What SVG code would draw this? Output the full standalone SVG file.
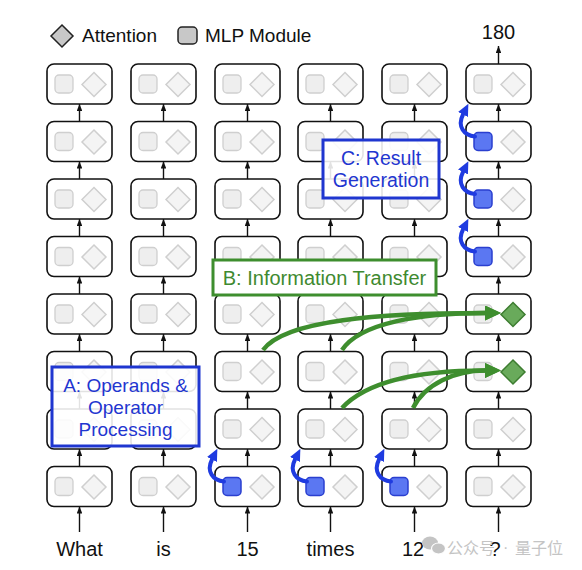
<svg xmlns="http://www.w3.org/2000/svg" xmlns:xlink="http://www.w3.org/1999/xlink" width="582" height="570" viewBox="0 0 582 570">
<style>
text{font-family:"Liberation Sans",Arial,Helvetica,sans-serif;}
.frame{fill:#fff;stroke:#111;stroke-width:1.6;}
.mlp{fill:#eeeeee;stroke:#cfcfcf;stroke-width:1.3;}
.attn{fill:#f4f4f4;stroke:#cfcfcf;stroke-width:1.5;}
.mlpB{fill:#5b77f2;stroke:#2a3fcf;stroke-width:1.5;}
.attnG{fill:#69aa5b;stroke:#3d7d30;stroke-width:1.5;}
.ar{stroke:#111;stroke-width:1.4;fill:none;marker-end:url(#ah);}
.ga{stroke:#3e8e2e;stroke-width:4.5;fill:none;marker-end:url(#gh);}
.ba{stroke:#1f3be0;stroke-width:4;fill:none;stroke-linecap:round;marker-end:url(#bh);}
.lblB{fill:#1f36d0;}
.lblG{fill:#3f8a30;}
.word{font-size:20px;fill:#111;text-anchor:middle;}
.wm{font-family:"Noto Sans CJK SC",sans-serif;font-size:16px;}
</style>
<defs>
<marker id="ah" viewBox="0 0 10 8" refX="10" refY="4" markerWidth="7" markerHeight="5.6" markerUnits="userSpaceOnUse" orient="auto"><path d="M0,0 L10,4 L0,8 z" fill="#111"/></marker>
<marker id="gh" viewBox="0 0 16 15" refX="0" refY="7.5" markerWidth="16" markerHeight="15" markerUnits="userSpaceOnUse" orient="auto"><path d="M0,0 L16,7.5 L0,15 z" fill="#3e8e2e"/></marker>
<marker id="bh" viewBox="0 0 12 11" refX="0" refY="5.5" markerWidth="12" markerHeight="11" markerUnits="userSpaceOnUse" orient="auto"><path d="M0,0 L12,5.5 L0,11 z" fill="#1f3be0"/></marker>
<g id="fr"><rect class="frame" x="0" y="0" width="65" height="40" rx="7"/></g>
<rect id="sq" class="mlp" x="8" y="11" width="18" height="18" rx="4"/>
<rect id="sqB" class="mlpB" x="8" y="11" width="18" height="18" rx="4"/>
<polygon id="dm" class="attn" points="47,8.5 59,20.5 47,32.5 35,20.5"/>
<polygon id="dmG" class="attnG" points="47,8.5 59,20.5 47,32.5 35,20.5"/>
<g id="cell"><use href="#fr"/><use href="#sq"/><use href="#dm"/></g>
<g id="cellB"><use href="#fr"/><use href="#sqB"/><use href="#dm"/></g>
<g id="cellG"><use href="#fr"/><use href="#sq"/><use href="#dmG"/></g>
</defs>
<rect width="582" height="570" fill="#fff"/>

<g id="legend">
<polygon points="62,25 73,36 62,47 51,36" fill="#c8c8c8" stroke="#222" stroke-width="1.5"/>
<text x="82" y="42" font-size="19" fill="#111">Attention</text>
<rect x="178" y="27" width="19" height="17" rx="4" fill="#c8c8c8" stroke="#222" stroke-width="1.5"/>
<text x="205" y="42" font-size="19" fill="#111">MLP Module</text>
</g>

<g id="nodes">
<g id="c1"><use href="#cell" x="47" y="64"/><use href="#cell" x="47" y="121.5"/><use href="#cell" x="47" y="179"/><use href="#cell" x="47" y="236.5"/><use href="#cell" x="47" y="294"/><use href="#cell" x="47" y="351.5"/><use href="#cell" x="47" y="409"/><use href="#cell" x="47" y="466.5"/></g>
<g id="c2"><use href="#cell" x="131" y="64"/><use href="#cell" x="131" y="121.5"/><use href="#cell" x="131" y="179"/><use href="#cell" x="131" y="236.5"/><use href="#cell" x="131" y="294"/><use href="#cell" x="131" y="351.5"/><use href="#cell" x="131" y="409"/><use href="#cell" x="131" y="466.5"/></g>
<g id="c3"><use href="#cell" x="215" y="64"/><use href="#cell" x="215" y="121.5"/><use href="#cell" x="215" y="179"/><use href="#cell" x="215" y="236.5"/><use href="#cell" x="215" y="294"/><use href="#cell" x="215" y="351.5"/><use href="#cell" x="215" y="409"/><use href="#cellB" x="215" y="466.5"/></g>
<g id="c4"><use href="#cell" x="298" y="64"/><use href="#cell" x="298" y="121.5"/><use href="#cell" x="298" y="179"/><use href="#cell" x="298" y="236.5"/><use href="#cell" x="298" y="294"/><use href="#cell" x="298" y="351.5"/><use href="#cell" x="298" y="409"/><use href="#cellB" x="298" y="466.5"/></g>
<g id="c5"><use href="#cell" x="382" y="64"/><use href="#cell" x="382" y="121.5"/><use href="#cell" x="382" y="179"/><use href="#cell" x="382" y="236.5"/><use href="#cell" x="382" y="294"/><use href="#cell" x="382" y="351.5"/><use href="#cell" x="382" y="409"/><use href="#cellB" x="382" y="466.5"/></g>
<g id="c6"><use href="#cell" x="466" y="64"/><use href="#cellB" x="466" y="121.5"/><use href="#cellB" x="466" y="179"/><use href="#cellB" x="466" y="236.5"/><use href="#cellG" x="466" y="294"/><use href="#cellG" x="466" y="351.5"/><use href="#cell" x="466" y="409"/><use href="#cell" x="466" y="466.5"/></g>
</g>

<g id="words">
<text class="word" x="79.5" y="556">What</text>
<text class="word" x="163.5" y="556">is</text>
<text class="word" x="247.5" y="556">15</text>
<text class="word" x="330.5" y="556">times</text>
<text class="word" x="413" y="556">12</text>
<text class="word" x="495" y="556">?</text>
<text class="word" x="498.5" y="39">180</text>
</g>

<g id="connectors">
<line class="ar" x1="79.5" y1="121.5" x2="79.5" y2="104"/><line class="ar" x1="79.5" y1="179" x2="79.5" y2="161.5"/><line class="ar" x1="79.5" y1="236.5" x2="79.5" y2="219"/><line class="ar" x1="79.5" y1="294" x2="79.5" y2="276.5"/><line class="ar" x1="79.5" y1="351.5" x2="79.5" y2="334"/><line class="ar" x1="79.5" y1="409" x2="79.5" y2="391.5"/><line class="ar" x1="79.5" y1="466.5" x2="79.5" y2="449"/><line class="ar" x1="79.5" y1="532" x2="79.5" y2="506.5"/>
<line class="ar" x1="163.5" y1="121.5" x2="163.5" y2="104"/><line class="ar" x1="163.5" y1="179" x2="163.5" y2="161.5"/><line class="ar" x1="163.5" y1="236.5" x2="163.5" y2="219"/><line class="ar" x1="163.5" y1="294" x2="163.5" y2="276.5"/><line class="ar" x1="163.5" y1="351.5" x2="163.5" y2="334"/><line class="ar" x1="163.5" y1="409" x2="163.5" y2="391.5"/><line class="ar" x1="163.5" y1="466.5" x2="163.5" y2="449"/><line class="ar" x1="163.5" y1="532" x2="163.5" y2="506.5"/>
<line class="ar" x1="247.5" y1="121.5" x2="247.5" y2="104"/><line class="ar" x1="247.5" y1="179" x2="247.5" y2="161.5"/><line class="ar" x1="247.5" y1="236.5" x2="247.5" y2="219"/><line class="ar" x1="247.5" y1="294" x2="247.5" y2="276.5"/><line class="ar" x1="247.5" y1="351.5" x2="247.5" y2="334"/><line class="ar" x1="247.5" y1="409" x2="247.5" y2="391.5"/><line class="ar" x1="247.5" y1="466.5" x2="247.5" y2="449"/><line class="ar" x1="247.5" y1="532" x2="247.5" y2="506.5"/>
<line class="ar" x1="330.5" y1="121.5" x2="330.5" y2="104"/><line class="ar" x1="330.5" y1="179" x2="330.5" y2="161.5"/><line class="ar" x1="330.5" y1="236.5" x2="330.5" y2="219"/><line class="ar" x1="330.5" y1="294" x2="330.5" y2="276.5"/><line class="ar" x1="330.5" y1="351.5" x2="330.5" y2="334"/><line class="ar" x1="330.5" y1="409" x2="330.5" y2="391.5"/><line class="ar" x1="330.5" y1="466.5" x2="330.5" y2="449"/><line class="ar" x1="330.5" y1="532" x2="330.5" y2="506.5"/>
<line class="ar" x1="414.5" y1="121.5" x2="414.5" y2="104"/><line class="ar" x1="414.5" y1="179" x2="414.5" y2="161.5"/><line class="ar" x1="414.5" y1="236.5" x2="414.5" y2="219"/><line class="ar" x1="414.5" y1="294" x2="414.5" y2="276.5"/><line class="ar" x1="414.5" y1="351.5" x2="414.5" y2="334"/><line class="ar" x1="414.5" y1="409" x2="414.5" y2="391.5"/><line class="ar" x1="414.5" y1="466.5" x2="414.5" y2="449"/><line class="ar" x1="414.5" y1="532" x2="414.5" y2="506.5"/>
<line class="ar" x1="498.5" y1="121.5" x2="498.5" y2="104"/><line class="ar" x1="498.5" y1="179" x2="498.5" y2="161.5"/><line class="ar" x1="498.5" y1="236.5" x2="498.5" y2="219"/><line class="ar" x1="498.5" y1="294" x2="498.5" y2="276.5"/><line class="ar" x1="498.5" y1="351.5" x2="498.5" y2="334"/><line class="ar" x1="498.5" y1="409" x2="498.5" y2="391.5"/><line class="ar" x1="498.5" y1="466.5" x2="498.5" y2="449"/><line class="ar" x1="498.5" y1="532" x2="498.5" y2="506.5"/>
<line class="ar" x1="498.5" y1="64" x2="498.5" y2="46"/>

<path class="ba" d="M224,481.5 C213,480.5 206,471.5 212,459.5"/>
<path class="ba" d="M307,481.5 C296,480.5 289,471.5 295,459.5"/>
<path class="ba" d="M391,481.5 C380,480.5 373,471.5 379,459.5"/>
<path class="ba" d="M475,136.5 C464,135.5 457,126.5 463,114.5"/>
<path class="ba" d="M475,194 C464,193 457,184 463,172"/>
<path class="ba" d="M475,251.5 C464,250.5 457,241.5 463,229.5"/>

<path class="ga" d="M263,350 C285,320 380,313 485,313"/>
<path class="ga" d="M342,350 C360,323 420,313 485,313"/>
<path class="ga" d="M342,408 C368,380 420,370.5 485,370.5"/>
<path class="ga" d="M413,408 C425,384 455,370.5 485,370.5"/>
</g>

<g id="labelB">
<rect x="213" y="260" width="223" height="35" fill="#fff" stroke="#3e8e2e" stroke-width="3"/>
<text class="lblG" x="324.5" y="285" font-size="20" text-anchor="middle">B: Information Transfer</text>
</g>
<g id="labelA">
<rect x="52" y="367" width="147" height="79" fill="#fff" fill-opacity="0.88" stroke="#1f36d0" stroke-width="3"/>
<text class="lblB" x="125.5" y="392" font-size="19" text-anchor="middle">A: Operands &amp;</text>
<text class="lblB" x="125.5" y="414" font-size="19" text-anchor="middle">Operator</text>
<text class="lblB" x="125.5" y="436" font-size="19" text-anchor="middle">Processing</text>
</g>
<g id="labelC">
<rect x="323" y="140" width="116" height="58" fill="#fff" fill-opacity="0.88" stroke="#1f36d0" stroke-width="3"/>
<text class="lblB" x="381" y="165" font-size="19.5" text-anchor="middle">C: Result</text>
<text class="lblB" x="381" y="187" font-size="19.5" text-anchor="middle">Generation</text>
</g>

<g id="watermark" fill="#c4c4c4">
<ellipse cx="430" cy="543" rx="8" ry="6.5"/>
<ellipse cx="438.5" cy="548.5" rx="7" ry="5.5" stroke="#fff" stroke-width="1.2"/>
<text class="wm" x="447" y="554">公众号</text>
<text x="503" y="553" font-size="16">·</text>
<text class="wm" x="515" y="554">量子位</text>
</g>
</svg>
